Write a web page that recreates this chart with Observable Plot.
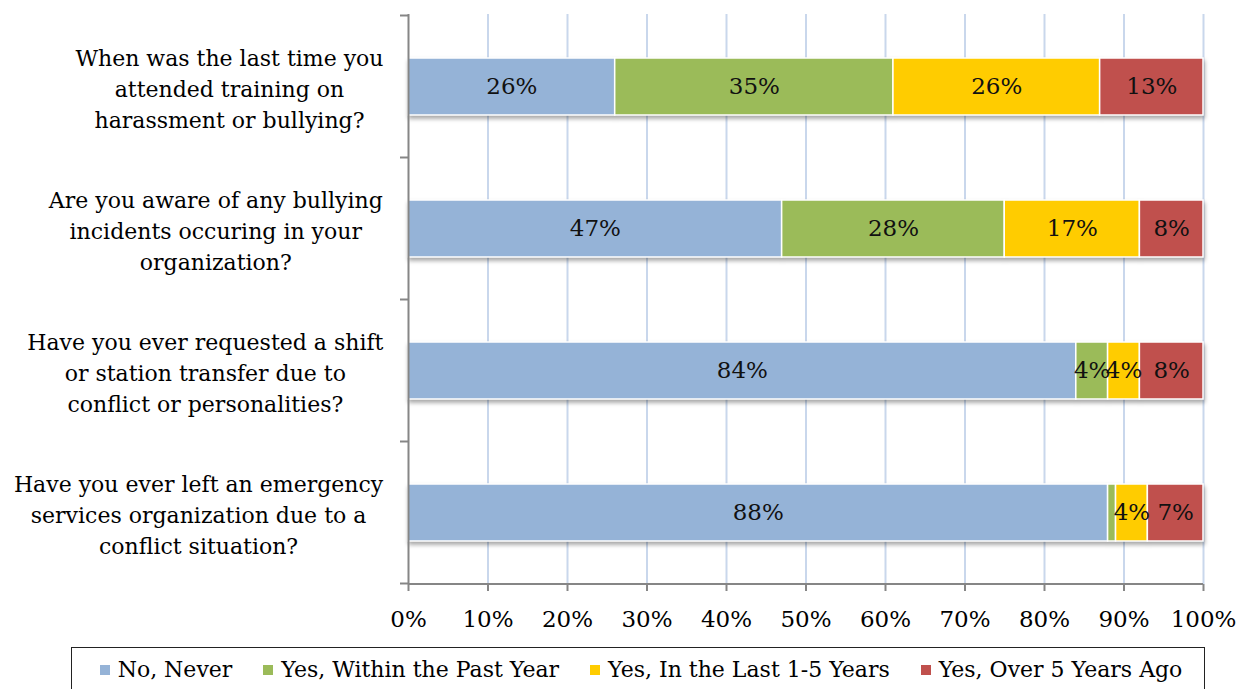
<!DOCTYPE html>
<html>
<head>
<meta charset="utf-8">
<script src="https://cdn.jsdelivr.net/npm/d3@7"></script>
<script src="https://cdn.jsdelivr.net/npm/@observablehq/plot@0.6"></script>
<style>
  html, body { margin: 0; padding: 0; background: #fff; }
  #chart { position: absolute; left: 0; top: 0; }
  svg g[aria-label="bar"] { filter: drop-shadow(1px 3px 2px rgba(0,0,0,0.35)); }
  #legend {
    position: absolute; left: 71px; top: 647px; width: 1134px; height: 60px;
    box-sizing: border-box; border: 1.5px solid #222;
    display: flex; justify-content: center; align-items: flex-start; gap: 31px;
    font-family: "DejaVu Serif", "Liberation Serif", serif; font-size: 22px; color: #000;
    padding-top: 9px; padding-left: 6px;
  }
  #legend .item { display: flex; align-items: center; white-space: nowrap; }
  #legend .sw { width: 10px; height: 10px; margin-right: 8px; display: inline-block; }
</style>
</head>
<body>
<div id="chart"></div>
<div id="legend"></div>
<script>
const FONT = "DejaVu Serif";

const questions = [
  "When was the last time you\nattended training on\nharassment or bullying?",
  "Are you aware of any bullying\nincidents occuring in your\norganization?",
  "Have you ever requested a shift\nor station transfer due to\nconflict or personalities?",
  "Have you ever left an emergency\nservices organization due to a\nconflict situation?"
];
const series = ["No, Never", "Yes, Within the Past Year", "Yes, In the Last 1-5 Years", "Yes, Over 5 Years Ago"];
const colors = ["#95b3d7", "#9bbb59", "#ffcc00", "#c0504d"];

const noNever  = [26, 47, 84, 88];
const pastYear = [35, 28, 4, 1];
const last1to5 = [26, 17, 4, 4];
const over5    = [13, 8, 8, 7];
const xTicks = [0, 10, 20, 30, 40, 50, 60, 70, 80, 90, 100];

const seriesValues = [noNever, pastYear, last1to5, over5];
const data = [];
questions.forEach((q, qi) => {
  series.forEach((s, si) => data.push({question: q, series: s, value: seriesValues[si][qi]}));
});

const W = 1241, H = 645, ML = 408, MR = 38, MT = 14, MB = 61;

const plot = Plot.plot({
  width: W, height: H,
  marginLeft: ML, marginRight: MR, marginTop: MT, marginBottom: MB,
  style: {fontFamily: FONT, fontSize: "23px", color: "#000", background: "transparent", overflow: "visible"},
  x: {domain: [0, 100]},
  y: {domain: questions, paddingInner: 0.6, paddingOuter: 0.3},
  color: {domain: series, range: colors},
  marks: [
    Plot.gridX({ticks: xTicks.slice(1), stroke: "#c9d7ec", strokeOpacity: 1, strokeWidth: 2}),
    Plot.barX(data, {x: "value", y: "question", fill: "series", stroke: "white", strokeWidth: 1.5, order: null}),
    Plot.text(data, Plot.stackX({
      x: "value", y: "question", z: "series", order: null,
      text: d => d.value >= 2 ? d.value + "%" : "",
      fill: "#111", fontSize: 23
    })),
    Plot.ruleX([0], {stroke: "#868686", strokeWidth: 2}),
    Plot.axisX({ticks: xTicks, tickFormat: d => d + "%", tickSize: 7, tickPadding: 19, stroke: "#868686", strokeWidth: 2, label: null, fontSize: 23}),
    Plot.axisY({tickSize: 0, tickPadding: 25, label: null, lineHeight: 1.41, fontSize: 22})
  ]
});

document.getElementById("chart").appendChild(plot);

// center lines of each multi-line category label on its widest line, right edge fixed
plot.querySelectorAll('g[aria-label="y-axis tick label"] text').forEach(t => {
  const w = t.getBBox().width;
  t.setAttribute("text-anchor", "middle");
  const tr = t.getAttribute("transform") || "";
  t.setAttribute("transform", tr + ` translate(${-w / 2},0)`);
});

// y-axis boundary ticks and bottom axis line drawn from the scales
const ys = plot.scale("y"), xs = plot.scale("x");
const ns = "http://www.w3.org/2000/svg";
const g = document.createElementNS(ns, "g");
g.setAttribute("stroke", "#868686");
g.setAttribute("stroke-width", "2");
const step = ys.step, bw = ys.bandwidth;
const bounds = questions.map(q => ys.apply(q) - (step - bw) / 2);
bounds.push(bounds[bounds.length - 1] + step);
const x0 = xs.apply(0), x1 = xs.apply(100);
bounds.forEach(y => {
  const l = document.createElementNS(ns, "line");
  l.setAttribute("x1", x0 - 8); l.setAttribute("x2", x0);
  l.setAttribute("y1", y); l.setAttribute("y2", y);
  g.appendChild(l);
});
const base = document.createElementNS(ns, "line");
base.setAttribute("x1", x0); base.setAttribute("x2", x1);
base.setAttribute("y1", H - MB); base.setAttribute("y2", H - MB);
g.appendChild(base);
plot.appendChild(g);

// legend
const legend = document.getElementById("legend");
series.forEach((s, i) => {
  const it = document.createElement("span");
  it.className = "item";
  const sw = document.createElement("span");
  sw.className = "sw";
  sw.style.background = colors[i];
  it.appendChild(sw);
  it.appendChild(document.createTextNode(s));
  legend.appendChild(it);
});
</script>
</body>
</html>
